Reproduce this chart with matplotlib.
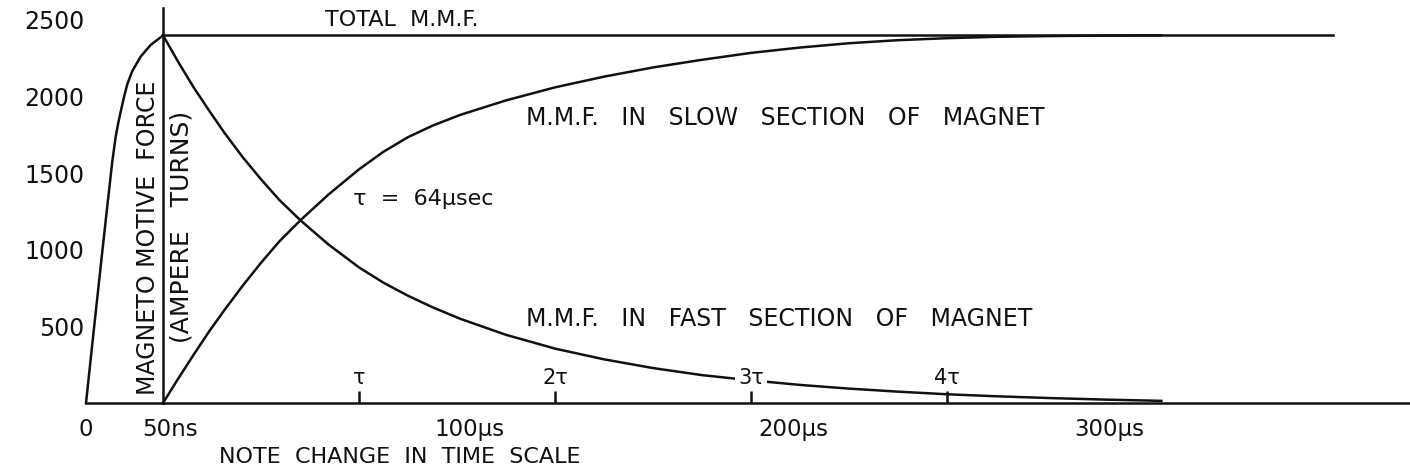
import matplotlib
matplotlib.use("Agg")
import matplotlib.pyplot as plt
import matplotlib.transforms as mtransforms

# ---------------- data ----------------
# rise of total M.M.F. during the first 50 ns
rise_ns = [0, 5, 10, 14, 17, 19.3, 21, 22.5, 24.5, 26.8, 30, 35.5, 42, 48.5, 50]
rise_mmf = [0, 470, 935, 1300, 1570, 1740, 1830, 1900, 1990, 2080, 2165, 2261,
            2337, 2387, 2400]

# after 50 ns, time in microseconds
t_us = [0, 5, 10, 15, 20, 26, 32, 38, 45, 54, 64, 72, 80, 88, 97, 112, 128,
        144, 160, 176, 192, 208, 224, 240, 256, 272, 290, 308, 326]
fast_mmf = [2400, 2225, 2060, 1910, 1765, 1605, 1460, 1325, 1190, 1035, 885,
            785, 700, 625, 550, 445, 355, 285, 228, 182, 148, 118, 94, 74, 57,
            44, 32, 22, 14]
slow_mmf = [0, 160, 315, 465, 605, 765, 915, 1055, 1195, 1360, 1525, 1640,
            1735, 1810, 1880, 1975, 2060, 2130, 2190, 2240, 2285, 2320, 2348,
            2368, 2381, 2390, 2395, 2398, 2400]

total_t = [0, 382]
total_mmf = [2400, 2400]

yticks = [500, 1000, 1500, 2000, 2500]
ytick_labels = ["500", "1000", "1500", "2000", "2500"]
ns_ticks = [0, 50]
ns_tick_labels = ["0", "50ns"]
us_ticks = [100, 200, 300]
us_tick_labels = ["100μs", "200μs", "300μs"]
tau_ticks = [64, 128, 192, 256]
tau_labels = ["τ", "2τ", "3τ", "4τ"]

# ---------------- figure ----------------
W, H = 1410, 474
fig = plt.figure(figsize=(W / 100, H / 100), dpi=100)
fig.patch.set_facecolor("white")
plt.rcParams["font.family"] = ["DejaVu Sans"]

ink = "#111111"
lw = 1.8
ymax = 2578

axL = fig.add_axes([86 / W, 71 / H, 77 / W, 395 / H])
axR = fig.add_axes([163 / W, 71 / H, 1247 / W, 395 / H])

for ax in (axL, axR):
    ax.set_ylim(0, ymax)
    ax.set_facecolor("none")
    for s in ("top", "right"):
        ax.spines[s].set_visible(False)
    ax.spines["bottom"].set_linewidth(lw)
    ax.spines["bottom"].set_color(ink)

axL.spines["left"].set_visible(False)
axR.spines["left"].set_linewidth(lw)
axR.spines["left"].set_color(ink)

axL.set_xlim(0, 50)
axR.set_xlim(0, 1247 / 3.0625)

# curves
axL.plot(rise_ns, rise_mmf, color=ink, lw=lw, solid_joinstyle="round", clip_on=False)
axR.plot(total_t, total_mmf, color=ink, lw=lw, clip_on=False)
axR.plot(t_us, slow_mmf, color=ink, lw=lw, solid_joinstyle="round", clip_on=False)
axR.plot(t_us, fast_mmf, color=ink, lw=lw, solid_joinstyle="round", clip_on=False)

# y ticks (labels only)
axL.set_yticks(yticks)
axL.set_yticklabels(ytick_labels, fontsize=17, color=ink)
axL.tick_params(axis="y", length=0, pad=1)
axR.set_yticks([])

# x ticks
axL.set_xticks(ns_ticks)
axL.set_xticklabels(ns_tick_labels, fontsize=16.5, color=ink)
axL.tick_params(axis="x", length=0, pad=11)
lbls = axL.get_xticklabels()
lbls[1].set_transform(lbls[1].get_transform() + mtransforms.ScaledTranslation(7 / 100, 0, fig.dpi_scale_trans))

axR.set_xticks(us_ticks)
axR.set_xticklabels(us_tick_labels, fontsize=16.5, color=ink)
axR.tick_params(axis="x", which="major", length=0, pad=11)
for lb, dx in zip(axR.get_xticklabels(), [0, 18, 28]):
    lb.set_transform(lb.get_transform() + mtransforms.ScaledTranslation(dx / 100, 0, fig.dpi_scale_trans))

axR.set_xticks(tau_ticks, minor=True)
axR.tick_params(axis="x", which="minor", direction="in", length=9, width=lw, color=ink)

# tau labels above ticks
for tt, lab in zip(tau_ticks, tau_labels):
    axR.annotate(lab, xy=(tt, 0), xytext=(0, 11), textcoords="offset points",
                 ha="center", va="bottom", fontsize=15, color=ink,
                 bbox=dict(boxstyle="square,pad=0.15", fc="white", ec="none"))

# annotations
axR.text(78, 2500, "TOTAL  M.M.F.", fontsize=16, color=ink, ha="center", va="center")
axR.text(118.5, 1860, "M.M.F.   IN   SLOW   SECTION   OF   MAGNET", fontsize=17, color=ink,
         ha="left", va="center")
axR.text(118.5, 545, "M.M.F.   IN   FAST   SECTION   OF   MAGNET", fontsize=17, color=ink,
         ha="left", va="center")
axR.text(62, 1332, "τ  =  64μsec", fontsize=16, color=ink, ha="left", va="center")

fig.text(148 / W, 1 - 238 / H, "MAGNETO MOTIVE  FORCE", rotation=90, fontsize=17,
         color=ink, ha="center", va="center")
fig.text(182 / W, 1 - 227 / H, "(AMPERE   TURNS)", rotation=90, fontsize=18,
         color=ink, ha="center", va="center")
fig.text(400 / W, 1 - 457 / H, "NOTE  CHANGE  IN  TIME  SCALE", fontsize=16,
         color=ink, ha="center", va="center")

fig.savefig("out.png", dpi=100, facecolor="white")
